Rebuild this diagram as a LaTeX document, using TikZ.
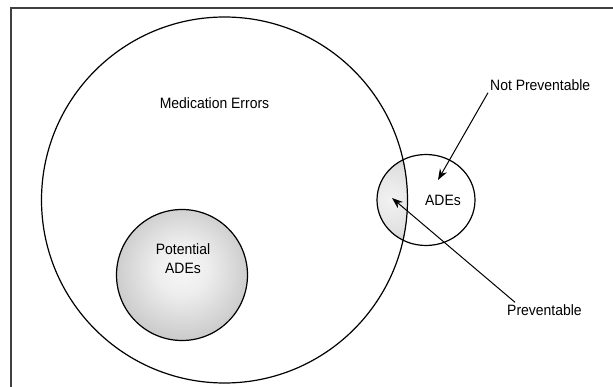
\documentclass[tikz,border=0pt]{standalone}
\usepackage{fontspec}
\setmainfont[FakeStretch=0.93]{Liberation Sans}
\usetikzlibrary{arrows.meta,shapes.geometric}
\pgfdeclareradialshading{potshade}{\pgfpoint{0bp}{3bp}}{color(0bp)=(black!3); color(10bp)=(black!7); color(28bp)=(black!22); color(50bp)=(black!52)}
\pgfdeclareradialshading{lensshade}{\pgfpoint{0bp}{0bp}}{color(0bp)=(black!5); color(18bp)=(black!12); color(50bp)=(black!45)}

\begin{document}
\begin{tikzpicture}[x=1pt,y=-1pt,>={Stealth[length=11pt,width=8pt]},
  lbl/.style={font=\fontsize{15}{19}\selectfont,inner sep=2pt},
  ring/.style={draw,line width=1.2pt,inner sep=0pt}]
  \useasboundingbox (0,0) rectangle (613,387);
  \draw[line width=1.6pt,black!75] (613,8) -- (11,8) -- (11,387);
  % shaded part of ADEs inside medication errors
  \begin{scope}
    \clip (224.5,200) circle (183pt);
    \clip (426,200) ellipse (49pt and 45.5pt);
    \fill[shading=lensshade] (391,200) circle (45pt);
  \end{scope}
  \node[ring,circle,minimum size=366pt] (meds) at (224.5,200) {};
  \node[ring,ellipse,minimum width=98pt,minimum height=91pt] (ades) at (426,200) {};
  \node[ring,circle,minimum size=131pt,shading=potshade] (pot) at (182,275) {};
  \node[lbl] (medstext) at (214.5,103.5) {Medication Errors};
  \node[lbl,align=center] (pottext) at (183,259) {Potential\\ADEs};
  \node[lbl] (adestext) at (443,200) {ADEs};
  \node[lbl,anchor=west] (notprev) at (488,85) {Not Preventable};
  \node[lbl,anchor=west] (prev) at (505,310) {Preventable};
  \coordinate (notprevtip) at (438,180);
  \coordinate (prevtip) at (392,198);
  \draw[->,line width=1pt] (notprev.south west) -- (notprevtip);
  \draw[->,line width=1pt] ([xshift=10pt]prev.north west) -- (prevtip);
\end{tikzpicture}
\end{document}
